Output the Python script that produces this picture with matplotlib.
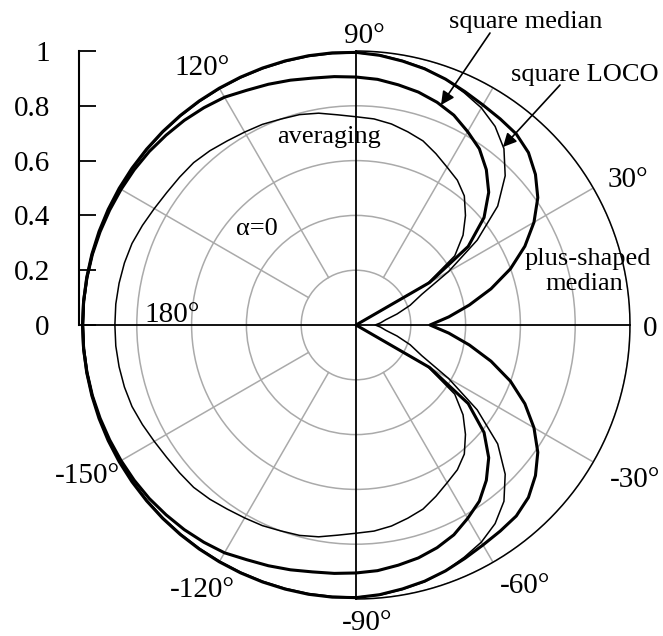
import numpy as np
import matplotlib.pyplot as plt

plt.rcParams['font.family'] = ['Liberation Serif', 'DejaVu Serif']

# angle (deg) of the readings, upper half; the lower half is the mirror image
theta_deg = list(range(0, 185, 5))

averaging = [0, 0, 0, 0, 0, 0,
             0.30, 0.44, 0.51, 0.565, 0.615, 0.645,
             0.665, 0.69, 0.715, 0.73, 0.745, 0.755,
             0.76, 0.77, 0.785, 0.795, 0.80, 0.808,
             0.813, 0.82, 0.83, 0.838, 0.84, 0.843,
             0.85, 0.86, 0.87, 0.875, 0.878, 0.88,
             0.88]
square_median = [0, 0, 0, 0, 0, 0,
                 0.31, 0.50, 0.61, 0.685, 0.74, 0.785,
                 0.815, 0.845, 0.865, 0.88, 0.89, 0.90,
                 0.905, 0.91, 0.915, 0.925, 0.935, 0.945,
                 0.96, 0.968, 0.975, 0.98, 0.985, 0.988,
                 0.99, 0.992, 0.994, 0.996, 0.997, 0.998,
                 0.998]
square_loco = [0.07, 0.09, 0.11, 0.155, 0.21, 0.265,
               0.39, 0.54, 0.675, 0.77, 0.84, 0.885,
               0.915, 0.935, 0.955, 0.97, 0.98, 0.99,
               0.993, 0.994, 0.995, 0.995, 0.995, 0.995,
               0.995, 0.995, 0.995, 0.995, 0.995, 0.995,
               0.995, 0.995, 0.995, 0.995, 0.995, 0.995,
               0.995]
plus_median = [0.27, 0.34, 0.42, 0.51, 0.60, 0.68,
               0.75, 0.81, 0.855, 0.89, 0.91, 0.918,
               0.927, 0.94, 0.955, 0.968, 0.978, 0.988,
               0.995, 0.997, 0.998, 0.998, 0.998, 0.998,
               0.998, 0.998, 0.998, 0.998, 0.998, 0.998,
               0.998, 0.998, 0.998, 0.998, 0.998, 0.998,
               0.998]

r_ticks = [0, 0.2, 0.4, 0.6, 0.8, 1]
r_labels = ['0', '0.2', '0.4', '0.6', '0.8', '1']


def closed(r):
    th = np.array(theta_deg, dtype=float)
    r = np.asarray(r, dtype=float)
    th_all = np.concatenate([-th[::-1], th[1:]])
    r_all = np.concatenate([r[::-1], r[1:]])
    return np.deg2rad(th_all), r_all


W, H = 663, 636
fig = plt.figure(figsize=(W / 100, H / 100), dpi=100)
cx, cy, R = 356, 311, 274  # centre and radius in figure pixels
ax = fig.add_axes([(cx - R) / W, (cy - R) / H, 2 * R / W, 2 * R / H], projection='polar')
ax.set_ylim(0, 1)
ax.set_xticks([])
ax.set_yticks([0.2, 0.4, 0.6, 0.8, 1.0])
ax.set_yticklabels([])
ax.yaxis.grid(True, color='#aaaaaa', lw=1.1)
ax.spines['polar'].set_visible(False)

grey = '#aaaaaa'
for a in [30, 60, 120, 150, 210, 240, 300, 330]:
    ax.plot([np.deg2rad(a)] * 2, [0.2, 1.0], color=grey, lw=1.1, zorder=1)
for a in [0, 90, 180, 270]:
    ax.plot([np.deg2rad(a)] * 2, [0, 1.0], color='k', lw=1.3, zorder=2, clip_on=False)
arc = np.linspace(-np.pi / 2, np.pi / 2, 200)
ax.plot(arc, np.ones_like(arc), color='k', lw=1.1, zorder=2, clip_on=False)

for r, lw in [(averaging, 1.1), (square_loco, 1.1), (square_median, 2.2), (plus_median, 2.2)]:
    th, rr = closed(r)
    ax.plot(th, rr, color='k', lw=lw, zorder=3, clip_on=False)

# left radial scale
yax = fig.add_axes([79 / W, cy / H, 0.0001, R / H])
yax.set_ylim(0, 1)
yax.patch.set_visible(False)
for s in ['top', 'right', 'bottom']:
    yax.spines[s].set_visible(False)
yax.spines['left'].set_linewidth(1.5)
yax.set_xticks([])
yax.set_yticks(r_ticks)
yax.set_yticklabels(r_labels)
yax.tick_params(axis='y', direction='in', length=12, width=1.3, pad=21, labelsize=21)

FS = 21


def lab(x, y, s, size=FS, ha='center'):
    fig.text(x / W, (H - y) / H, s, ha=ha, va='baseline', fontsize=size)


lab(364, 43, '90°')
lab(202, 75, '120°')
lab(628, 187, '30°')
lab(172, 322, '180°')
lab(650, 336, '0')
lab(635, 487, '-30°')
lab(525, 593, '-60°')
lab(367, 630, '-90°')
lab(202, 597, '-120°')
lab(120, 483, '-150°', ha='right')

lab(257, 235, 'α=0', size=19)
lab(329, 143, 'averaging', size=19)
lab(526, 28, 'square median', size=19)
lab(585, 81, 'square LOCO', size=19)
lab(588, 265, 'plus-shaped', size=19)
lab(584, 290, 'median', size=19)

arrow = dict(arrowstyle='-|>', color='k', lw=1.2, mutation_scale=20, shrinkA=0, shrinkB=0)
fig.add_artist(plt.matplotlib.patches.FancyArrowPatch((490, H - 33), (441, H - 105),
                                                      transform=None, **arrow))
fig.add_artist(plt.matplotlib.patches.FancyArrowPatch((560, H - 85), (503, H - 147),
                                                      transform=None, **arrow))

fig.savefig('out.png', dpi=100)
